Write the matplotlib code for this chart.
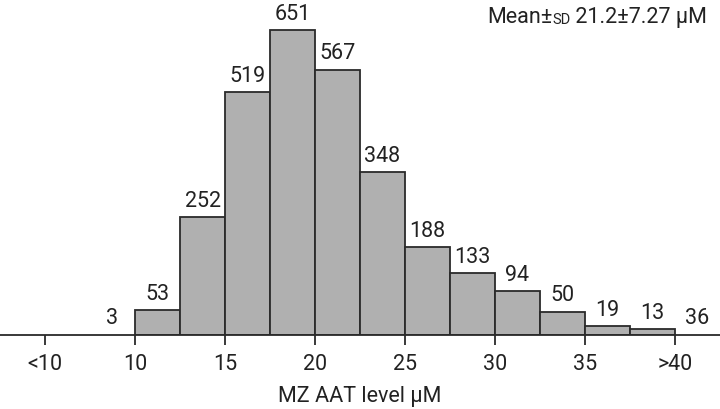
import matplotlib
matplotlib.use("Agg")
import matplotlib.pyplot as plt

plt.rcParams['font.family'] = ['Roboto', 'DejaVu Sans']

# Data
bin_left = [10, 12.5, 15, 17.5, 20, 22.5, 25, 27.5, 30, 32.5, 35, 37.5]
counts = [53, 252, 519, 651, 567, 348, 188, 133, 94, 50, 19, 13]
below_count = 3      # <10
above_count = 36     # >40
tick_pos = [5, 10, 15, 20, 25, 30, 35, 40]
tick_labels = ["<10", "10", "15", "20", "25", "30", "35", ">40"]
bin_width = 2.5

FS = 15.5
TXT = "#222222"
fig = plt.figure(figsize=(7.2, 4.1), dpi=100)
ax = fig.add_axes([0, 74/410, 1, 336/410])
ax.bar(bin_left, counts, width=bin_width, align='edge', color='#b0b0b0',
       edgecolor='#2a2a2a', linewidth=1.3, zorder=2)

for x, c in zip(bin_left, counts):
    ax.annotate(str(c), (x + bin_width/2, c), xytext=(0, 4.5), textcoords='offset points',
                ha='center', va='bottom', fontsize=FS, color=TXT)
ax.annotate(str(below_count), (10 - bin_width/2, 0), xytext=(0, 5), textcoords='offset points',
            ha='center', va='bottom', fontsize=FS, color=TXT)
ax.annotate(str(above_count), (40 + bin_width/2, 0), xytext=(0, 5), textcoords='offset points',
            ha='center', va='bottom', fontsize=FS, color=TXT)

ax.set_xlim(2.5, 42.5)
ax.set_ylim(0, 718)
for s in ['left', 'right', 'top']:
    ax.spines[s].set_visible(False)
ax.spines['bottom'].set_color('#2a2a2a')
ax.spines['bottom'].set_linewidth(1.3)
ax.set_yticks([])
ax.set_xticks(tick_pos)
ax.set_xticklabels(tick_labels, fontsize=FS, color=TXT)
ax.tick_params(axis='x', length=7, width=1.3, color='#2a2a2a', pad=6)
ax.set_xlabel("MZ AAT level µM", fontsize=FS, color=TXT, labelpad=8)

# Mean ± SD annotation
t1 = fig.text(487/720, 1 - 23/410, "Mean±", fontsize=FS, color=TXT, ha='left', va='baseline')
t2 = ax.annotate("SD", xy=(1, 0), xycoords=t1, xytext=(0, 1.0), textcoords='offset points',
                 fontsize=10.5, color=TXT, ha='left', va='bottom')
t3 = ax.annotate(" 21.2±7.27 µM", xy=(1, 0), xycoords=t2, xytext=(0, -1.0), textcoords='offset points',
                 fontsize=FS, color=TXT, ha='left', va='bottom')

fig.savefig("out.png", dpi=100)
